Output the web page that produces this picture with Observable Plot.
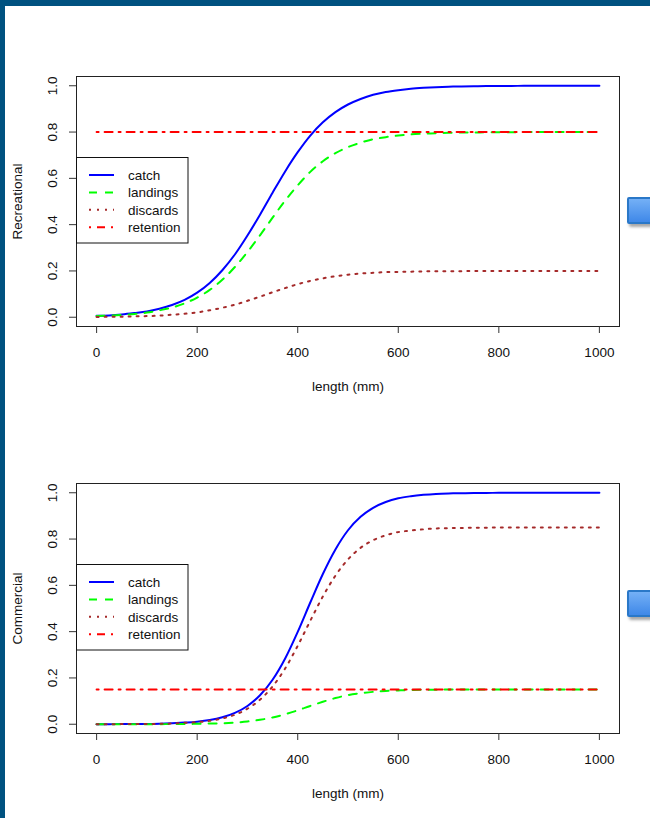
<!DOCTYPE html>
<html><head><meta charset="utf-8">
<script src="https://cdn.jsdelivr.net/npm/d3@7"></script>
<script src="https://cdn.jsdelivr.net/npm/@observablehq/plot@0.6"></script>
<style>
html,body{margin:0;padding:0;background:#fff;}
body{width:650px;height:818px;position:relative;overflow:hidden;font-family:"Liberation Sans",Arial,sans-serif;}
#bt{position:absolute;left:0;top:0;width:650px;height:6px;background:#005280;z-index:5}
#bl{position:absolute;left:0;top:0;width:5px;height:818px;background:#005280;z-index:5}
.panel{position:absolute;left:0;width:640px;height:410px;}
.legend{position:absolute;left:76px;}
.btn{position:absolute;left:627px;width:32px;height:23px;border:2px solid #2a78c8;border-radius:2px;
  background:linear-gradient(#74b0f6,#3f88e8);box-shadow:2px 3px 3px rgba(0,0,0,0.35);}
</style>
</head><body>
<div id="bt"></div><div id="bl"></div>
<div id="p1" class="panel" style="top:0px"></div>
<div id="p2" class="panel" style="top:407px"></div>
<div class="btn" style="top:197px"></div>
<div class="btn" style="top:590px"></div>
<script>
// ---- data ----
const lengthMM = [0,25,50,75,100,125,150,175,200,225,250,275,300,325,350,375,400,425,450,475,500,525,550,575,600,625,650,675,700,725,750,775,800,825,850,875,900,925,950,975,1000];

const recCatch = [0.006,0.008,0.012,0.018,0.025,0.037,0.053,0.075,0.106,0.148,0.203,0.271,0.353,0.443,0.538,0.630,0.713,0.785,0.842,0.886,0.919,0.943,0.961,0.973,0.981,0.987,0.991,0.994,0.996,0.997,0.998,0.999,0.999,0.999,1.000,1.000,1.000,1.000,1.000,1.000,1.000];
const recLandings = [0.005,0.007,0.010,0.014,0.020,0.030,0.042,0.060,0.085,0.118,0.162,0.217,0.282,0.354,0.430,0.504,0.570,0.628,0.674,0.709,0.735,0.754,0.769,0.778,0.785,0.790,0.793,0.795,0.797,0.798,0.798,0.799,0.799,0.799,0.800,0.800,0.800,0.800,0.800,0.800,0.800];
const recDiscards = [0.001,0.002,0.002,0.004,0.005,0.007,0.011,0.015,0.021,0.030,0.041,0.054,0.071,0.089,0.108,0.126,0.143,0.157,0.168,0.177,0.184,0.189,0.192,0.195,0.196,0.197,0.198,0.199,0.199,0.199,0.200,0.200,0.200,0.200,0.200,0.200,0.200,0.200,0.200,0.200,0.200];
const recRetention = 0.80;

const comCatch = [0.000,0.000,0.001,0.001,0.001,0.002,0.004,0.007,0.011,0.018,0.030,0.049,0.079,0.125,0.192,0.284,0.399,0.526,0.649,0.755,0.838,0.896,0.935,0.960,0.976,0.985,0.991,0.995,0.997,0.998,0.999,0.999,1.000,1.000,1.000,1.000,1.000,1.000,1.000,1.000,1.000];
const comLandings = [0.000,0.000,0.000,0.000,0.000,0.000,0.001,0.001,0.002,0.003,0.004,0.007,0.012,0.019,0.029,0.043,0.060,0.079,0.097,0.113,0.126,0.134,0.140,0.144,0.146,0.148,0.149,0.149,0.150,0.150,0.150,0.150,0.150,0.150,0.150,0.150,0.150,0.150,0.150,0.150,0.150];
const comDiscards = [0.000,0.000,0.001,0.001,0.001,0.002,0.003,0.006,0.009,0.015,0.025,0.041,0.067,0.106,0.163,0.241,0.339,0.447,0.552,0.642,0.712,0.762,0.795,0.816,0.830,0.837,0.842,0.846,0.847,0.848,0.849,0.849,0.850,0.850,0.850,0.850,0.850,0.850,0.850,0.850,0.850];
const comRetention = 0.15;

const xTicks = [0,200,400,600,800,1000];
const yTicks = [0,0.2,0.4,0.6,0.8,1.0];
const seriesNames = ["catch","landings","discards","retention"];
const seriesColors = ["#0000ff","#00ff00","#a52a2a","#ff0000"];
const seriesDash = [null,"8,8","2,6","2,6,8,6"];

const FONT = "'Liberation Sans', Arial, sans-serif";

function panel(title, catchV, landV, discV, retV) {
  const rows = lengthMM.map((x, i) => ({x, c: catchV[i], l: landV[i], d: discV[i], r: retV}));
  const vals = ["c","l","d","r"];
  const lines = vals.map((k, i) => Plot.line(rows, {
    x: "x", y: k, stroke: seriesColors[i], strokeWidth: 2,
    strokeDasharray: seriesDash[i] || undefined,
    curve: k === "r" ? "linear" : "monotone-x"
  }));
  return Plot.plot({
    width: 640, height: 410,
    marginLeft: 76, marginTop: 76, marginRight: 21, marginBottom: 84,
    style: {fontFamily: FONT, fontSize: "13.5px", color: "#111", background: "transparent", overflow: "visible"},
    x: {domain: [-40, 1040]},
    y: {domain: [-0.04, 1.04]},
    marks: [
      ...lines,
      Plot.frame({stroke: "#222"}),
      Plot.axisX({ticks: xTicks, tickSize: 7, tickPadding: 14, tickFormat: d => String(d), label: null, stroke: "#333"}),
      Plot.axisY({ticks: yTicks, tickSize: 7, tickPadding: 13, tickRotate: -90, tickFormat: d3.format(".1f"), label: null, stroke: "#333"}),
      Plot.text([title], {frameAnchor: "left", rotate: -90, dx: -58.5, textAnchor: "middle", lineAnchor: "middle", text: d => d, fill: "#111"}),
      Plot.text(["length (mm)"], {frameAnchor: "bottom", dy: 60, textAnchor: "middle", lineAnchor: "middle", text: d => d, fill: "#111"})
    ]
  });
}

function legend() {
  const ns = "http://www.w3.org/2000/svg";
  const svg = document.createElementNS(ns, "svg");
  svg.setAttribute("width", 113); svg.setAttribute("height", 87);
  svg.setAttribute("class", "legend");
  svg.style.top = "157px";
  svg.style.fontFamily = FONT; svg.style.fontSize = "13.5px";
  const rect = document.createElementNS(ns, "rect");
  rect.setAttribute("x", 0.5); rect.setAttribute("y", 0.5);
  rect.setAttribute("width", 111.5); rect.setAttribute("height", 85.5);
  rect.setAttribute("fill", "#fff"); rect.setAttribute("stroke", "#111");
  svg.appendChild(rect);
  seriesNames.forEach((name, i) => {
    const y = 18 + i * 17.4;
    const ln = document.createElementNS(ns, "line");
    ln.setAttribute("x1", 13); ln.setAttribute("x2", 38);
    ln.setAttribute("y1", y); ln.setAttribute("y2", y);
    ln.setAttribute("stroke", seriesColors[i]); ln.setAttribute("stroke-width", 2);
    if (seriesDash[i]) ln.setAttribute("stroke-dasharray", seriesDash[i]);
    svg.appendChild(ln);
    const t = document.createElementNS(ns, "text");
    t.setAttribute("x", 52); t.setAttribute("y", y); t.setAttribute("dy", "0.35em");
    t.setAttribute("fill", "#111");
    t.textContent = name;
    svg.appendChild(t);
  });
  return svg;
}

const p1 = document.getElementById("p1");
p1.appendChild(panel("Recreational", recCatch, recLandings, recDiscards, recRetention));
p1.appendChild(legend());
const p2 = document.getElementById("p2");
p2.appendChild(panel("Commercial", comCatch, comLandings, comDiscards, comRetention));
p2.appendChild(legend());
</script>
</body></html>
